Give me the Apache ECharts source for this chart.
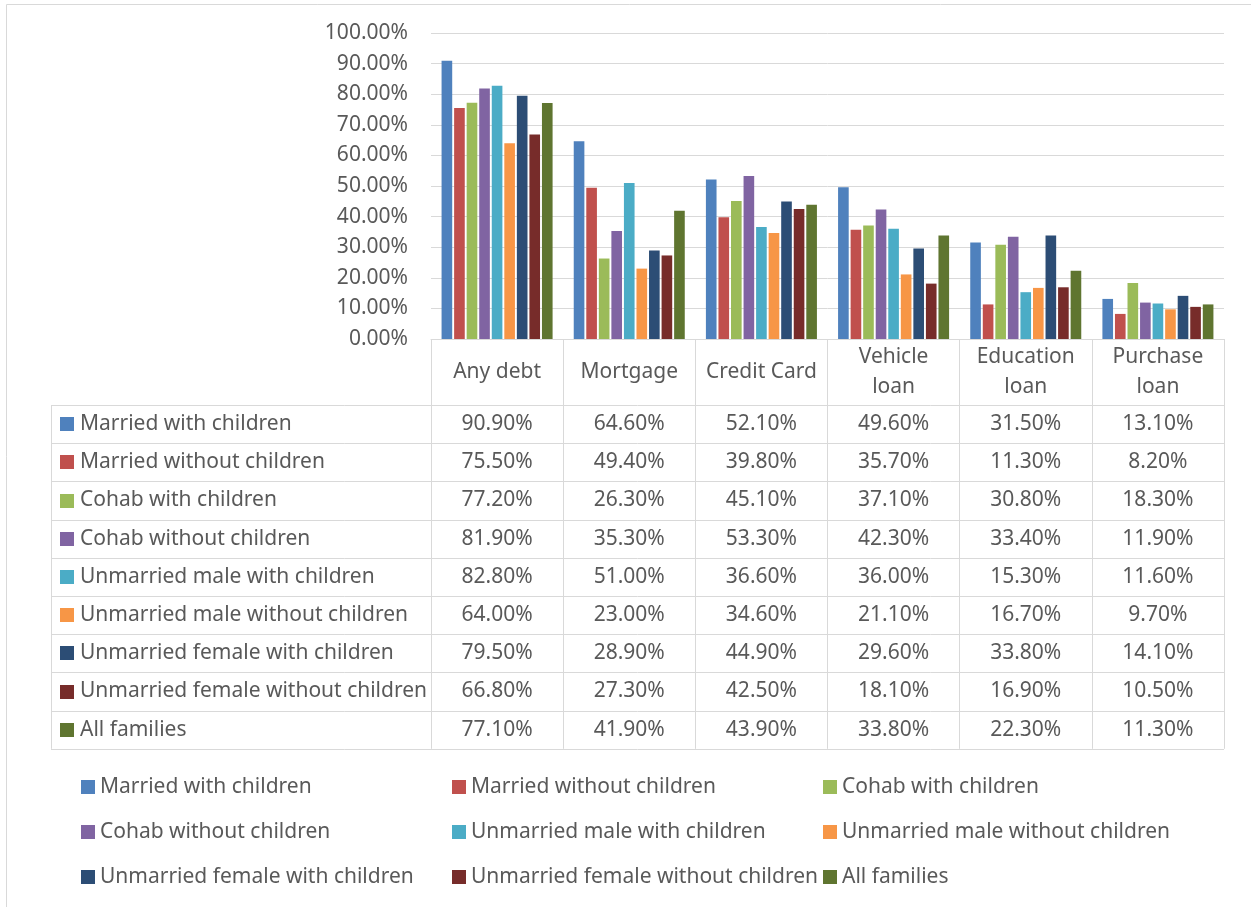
<!DOCTYPE html>
<html>
<head>
<meta charset="utf-8">
<title>Debt by family type</title>
<script src="https://cdn.jsdelivr.net/npm/echarts@6/dist/echarts.min.js"></script>
<style>
  html, body { margin: 0; padding: 0; background: #fff; }
  #chart { width: 1251px; height: 907px; }
</style>
</head>
<body>
<div id="chart"></div>
<script>
// categories (x axis / table columns)
const categories = ['Any debt', 'Mortgage', 'Credit Card', 'Vehicle loan', 'Education loan', 'Purchase loan'];

// series names (table rows / legend)
const seriesNames = [
  'Married with children',
  'Married without children',
  'Cohab with children',
  'Cohab without children',
  'Unmarried male with children',
  'Unmarried male without children',
  'Unmarried female with children',
  'Unmarried female without children',
  'All families'
];

// values in percent
const marriedWithChildren       = [90.9, 64.6, 52.1, 49.6, 31.5, 13.1];
const marriedWithoutChildren    = [75.5, 49.4, 39.8, 35.7, 11.3, 8.2];
const cohabWithChildren         = [77.2, 26.3, 45.1, 37.1, 30.8, 18.3];
const cohabWithoutChildren      = [81.9, 35.3, 53.3, 42.3, 33.4, 11.9];
const unmarriedMaleWith         = [82.8, 51.0, 36.6, 36.0, 15.3, 11.6];
const unmarriedMaleWithout      = [64.0, 23.0, 34.6, 21.1, 16.7, 9.7];
const unmarriedFemaleWith       = [79.5, 28.9, 44.9, 29.6, 33.8, 14.1];
const unmarriedFemaleWithout    = [66.8, 27.3, 42.5, 18.1, 16.9, 10.5];
const allFamilies               = [77.1, 41.9, 43.9, 33.8, 22.3, 11.3];

const seriesValues = [
  marriedWithChildren, marriedWithoutChildren, cohabWithChildren,
  cohabWithoutChildren, unmarriedMaleWith, unmarriedMaleWithout,
  unmarriedFemaleWith, unmarriedFemaleWithout, allFamilies
];

// y axis ticks
const yMin = 0;
const yMax = 100;
const yStep = 10;

const colors = ['#4F81BD', '#C0504D', '#9BBB59', '#8064A2', '#4BACC6',
                '#F79646', '#2C4D75', '#772C2A', '#5F7530'];

const FONT = '"Noto Sans", "Open Sans", sans-serif';
const FS = 21;
const TXT = '#595959';
const LINE = '#D9D9D9';

// layout
const plotLeft = 431, plotRight = 1224, plotTop = 33, plotBottom = 339;
const headerBottom = 405, rowH = 38.2, tableLeft = 51;
const tableBottom = headerBottom + rowH * seriesNames.length;

const chart = echarts.init(document.getElementById('chart'));

// legend: three columns, filled column by column
function legendColumn(col, left) {
  return {
    orient: 'vertical',
    left: left,
    top: 776,
    padding: 0,
    itemWidth: 14,
    itemHeight: 14,
    itemGap: 23,
    icon: 'rect',
    selectedMode: false,
    data: seriesNames.filter((n, i) => i % 3 === col),
    textStyle: { fontFamily: FONT, fontSize: FS, color: TXT, lineHeight: 22 }
  };
}

const option = {
  animation: false,
  color: colors,
  grid: {
    left: plotLeft,
    top: plotTop,
    width: plotRight - plotLeft,
    height: plotBottom - plotTop,
    containLabel: false
  },
  legend: [legendColumn(0, 81), legendColumn(1, 452), legendColumn(2, 823)],
  xAxis: {
    type: 'category',
    data: categories,
    axisLine: { lineStyle: { color: LINE, width: 1 } },
    axisTick: {
      show: true,
      length: tableBottom - plotBottom,
      lineStyle: { color: LINE, width: 1 }
    },
    axisLabel: {
      interval: 0,
      margin: 33,
      verticalAlign: 'middle',
      lineHeight: 30,
      fontFamily: FONT,
      fontSize: FS,
      color: TXT,
      formatter: v => v.replace(' loan', '\nloan')
    }
  },
  yAxis: {
    type: 'value',
    min: yMin,
    max: yMax,
    interval: yStep,
    axisLine: { show: false },
    axisTick: { show: false },
    splitLine: { lineStyle: { color: LINE, width: 1 } },
    axisLabel: {
      margin: 23,
      fontFamily: FONT,
      fontSize: FS,
      color: TXT,
      formatter: v => v.toFixed(2) + '%'
    }
  },
  series: seriesNames.map((name, i) => ({
    name: name,
    type: 'bar',
    data: seriesValues[i],
    barGap: '18%',
    barCategoryGap: '16%'
  }))
};

chart.setOption(option);

// data table below the axis
const graphics = [];
const hline = (x1, x2, y) => ({
  type: 'line', silent: true,
  shape: { x1: x1, y1: Math.round(y) + 0.5, x2: x2, y2: Math.round(y) + 0.5 },
  style: { stroke: LINE, lineWidth: 1 }
});
const txt = (t, x, y, align) => ({
  type: 'text', silent: true,
  style: {
    text: t, x: x, y: y,
    align: align, verticalAlign: 'middle',
    textAlign: align, textVerticalAlign: 'middle',
    font: FS + 'px ' + FONT, fill: TXT
  }
});

// outer chart border
graphics.push({
  type: 'rect', silent: true,
  shape: { x: 6.5, y: 4.5, width: 1400, height: 1000 },
  style: { fill: 'none', stroke: LINE, lineWidth: 1 }
});

for (let r = 0; r <= seriesNames.length; r++) {
  graphics.push(hline(tableLeft, plotRight, headerBottom + r * rowH));
}
graphics.push({
  type: 'line', silent: true,
  shape: { x1: tableLeft + 0.5, y1: headerBottom, x2: tableLeft + 0.5, y2: tableBottom },
  style: { stroke: LINE, lineWidth: 1 }
});

seriesNames.forEach((name, i) => {
  const cy = headerBottom + (i + 0.5) * rowH;
  graphics.push({
    type: 'rect', silent: true,
    shape: { x: 60, y: Math.round(cy) - 7, width: 14, height: 14 },
    style: { fill: colors[i] }
  });
  graphics.push(txt(name, 80, cy, 'left'));
  categories.forEach((c, j) => {
    const cx = chart.convertToPixel({ xAxisIndex: 0 }, j);
    graphics.push(txt(seriesValues[i][j].toFixed(2) + '%', cx, cy, 'center'));
  });
});

chart.setOption({ graphic: graphics });
</script>
</body>
</html>
